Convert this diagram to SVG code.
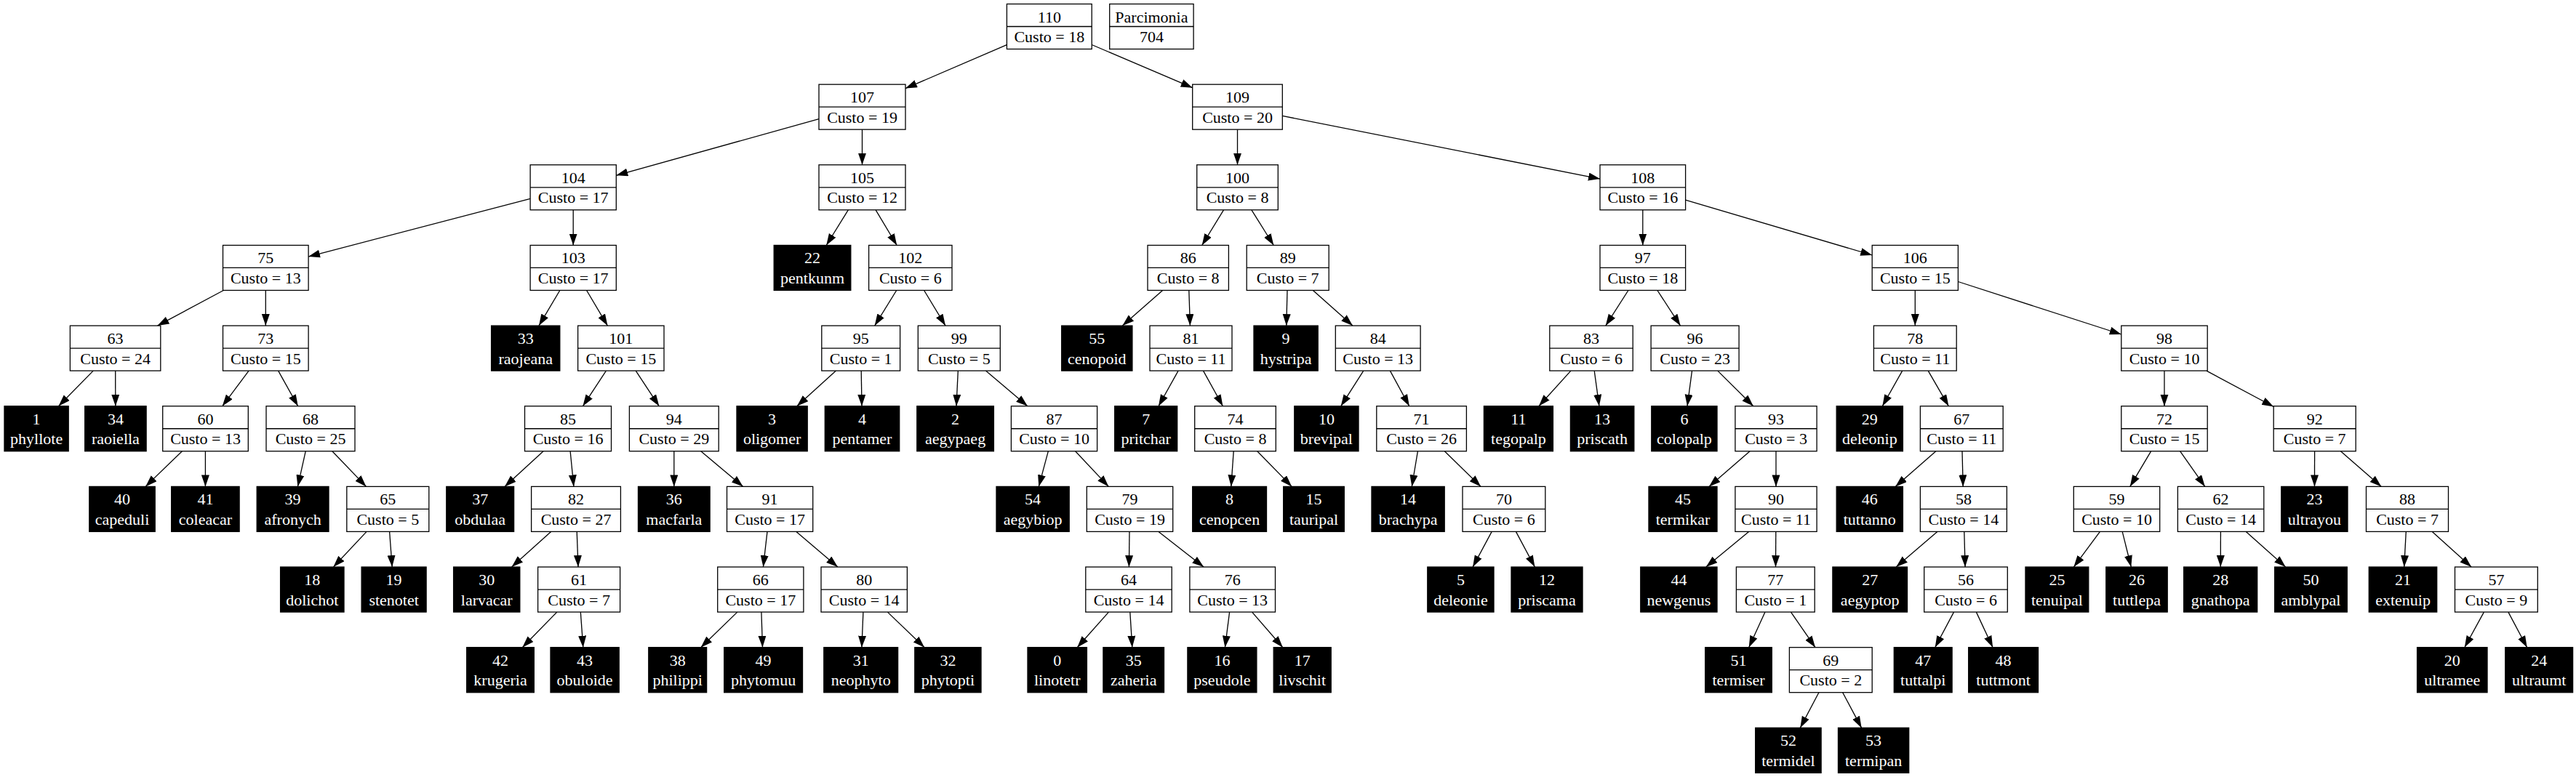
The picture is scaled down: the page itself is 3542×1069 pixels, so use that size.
<svg xmlns="http://www.w3.org/2000/svg" width="3542" height="1069" viewBox="0 0 3542 1069">
<style>
.n rect{fill:#fff;stroke:#000;stroke-width:1.3}
.n line{stroke:#000;stroke-width:1.3}
.l rect{fill:#000;stroke:#000;stroke-width:1.3}
text{font-family:"Liberation Serif","Times New Roman",serif;font-size:22px;text-anchor:middle;fill:#000}
.l text{fill:#fff}
#edges line{stroke:#000;stroke-width:1.3;marker-end:url(#a)}
</style>
<defs>
<marker id="a" markerUnits="userSpaceOnUse" markerWidth="17" markerHeight="12" refX="16" refY="5.5" orient="auto"><path d="M0,0 L16,5.5 L0,11 Z" fill="#000"/></marker>
</defs>
<rect width="3542" height="1069" fill="#fff"/>
<g id="edges">
<line x1="1384.4" y1="61.6" x2="1245" y2="121.6"/>
<line x1="1501.1" y1="61.5" x2="1639.7" y2="120.7"/>
<line x1="1126" y1="163.7" x2="847.3" y2="241.3"/>
<line x1="1185.5" y1="178.2" x2="1185.5" y2="226.8"/>
<line x1="729.1" y1="273.3" x2="424" y2="353.1"/>
<line x1="788.2" y1="288.8" x2="788.2" y2="337.5"/>
<line x1="1166.3" y1="288.8" x2="1136.2" y2="337.5"/>
<line x1="1204.1" y1="288.8" x2="1233.2" y2="337.5"/>
<line x1="307.3" y1="399.5" x2="216.5" y2="448.1"/>
<line x1="365.3" y1="399.5" x2="365.3" y2="448.1"/>
<line x1="128.2" y1="510.1" x2="80.5" y2="558.8"/>
<line x1="158.7" y1="510.1" x2="158.8" y2="558.8"/>
<line x1="342.1" y1="510.1" x2="305.7" y2="558.8"/>
<line x1="382.6" y1="510.1" x2="409.7" y2="558.8"/>
<line x1="250.4" y1="620.8" x2="200.1" y2="669.4"/>
<line x1="282.4" y1="620.8" x2="282.4" y2="669.4"/>
<line x1="420.2" y1="620.8" x2="409.4" y2="669.4"/>
<line x1="456.8" y1="620.8" x2="503.5" y2="669.4"/>
<line x1="504.1" y1="731.4" x2="458.4" y2="780.1"/>
<line x1="535.6" y1="731.4" x2="539.2" y2="780.1"/>
<line x1="769.8" y1="399.5" x2="741" y2="448.1"/>
<line x1="806.6" y1="399.5" x2="835.4" y2="448.1"/>
<line x1="833.4" y1="510.1" x2="801.4" y2="558.8"/>
<line x1="874.2" y1="510.1" x2="906.3" y2="558.8"/>
<line x1="747.1" y1="620.8" x2="694" y2="669.4"/>
<line x1="784.1" y1="620.8" x2="788.9" y2="669.4"/>
<line x1="757.6" y1="731.4" x2="703.6" y2="780.1"/>
<line x1="793.2" y1="731.4" x2="795" y2="780.1"/>
<line x1="765.8" y1="842.1" x2="718.3" y2="890.7"/>
<line x1="798.3" y1="842.1" x2="801.8" y2="890.7"/>
<line x1="926.8" y1="620.8" x2="926.8" y2="669.4"/>
<line x1="963.7" y1="620.8" x2="1021.7" y2="669.4"/>
<line x1="1055" y1="731.4" x2="1049.4" y2="780.1"/>
<line x1="1094.9" y1="731.4" x2="1151.9" y2="780.1"/>
<line x1="1013.8" y1="842.1" x2="963.7" y2="890.7"/>
<line x1="1046.9" y1="842.1" x2="1048.5" y2="890.7"/>
<line x1="1186.9" y1="842.1" x2="1184.9" y2="890.7"/>
<line x1="1220.4" y1="842.1" x2="1271.1" y2="890.7"/>
<line x1="1232.7" y1="399.5" x2="1202.7" y2="448.1"/>
<line x1="1270.6" y1="399.5" x2="1300" y2="448.1"/>
<line x1="1149.5" y1="510.1" x2="1095.8" y2="558.8"/>
<line x1="1184.2" y1="510.1" x2="1185" y2="558.8"/>
<line x1="1317.3" y1="510.1" x2="1315" y2="558.8"/>
<line x1="1355.4" y1="510.1" x2="1412.9" y2="558.8"/>
<line x1="1441.3" y1="620.8" x2="1428.3" y2="669.4"/>
<line x1="1478.6" y1="620.8" x2="1524.3" y2="669.4"/>
<line x1="1553" y1="731.4" x2="1552.4" y2="780.1"/>
<line x1="1593" y1="731.4" x2="1655.1" y2="780.1"/>
<line x1="1524.4" y1="842.1" x2="1481.2" y2="890.7"/>
<line x1="1553.8" y1="842.1" x2="1556.8" y2="890.7"/>
<line x1="1690.6" y1="842.1" x2="1684.4" y2="890.7"/>
<line x1="1721.6" y1="842.1" x2="1763.8" y2="890.7"/>
<line x1="1701.5" y1="178.2" x2="1701.5" y2="226.8"/>
<line x1="1763.2" y1="159.4" x2="2200" y2="246.1"/>
<line x1="1682.5" y1="288.8" x2="1652.7" y2="337.5"/>
<line x1="1720.9" y1="288.8" x2="1751.3" y2="337.5"/>
<line x1="1598.6" y1="399.5" x2="1543.4" y2="448.1"/>
<line x1="1634.8" y1="399.5" x2="1636.4" y2="448.1"/>
<line x1="1620.1" y1="510.1" x2="1593" y2="558.8"/>
<line x1="1654.5" y1="510.1" x2="1681.4" y2="558.8"/>
<line x1="1696.2" y1="620.8" x2="1692.8" y2="669.4"/>
<line x1="1728.7" y1="620.8" x2="1776.2" y2="669.4"/>
<line x1="1770" y1="399.5" x2="1768.8" y2="448.1"/>
<line x1="1805.4" y1="399.5" x2="1859.9" y2="448.1"/>
<line x1="1874.8" y1="510.1" x2="1843.7" y2="558.8"/>
<line x1="1911.4" y1="510.1" x2="1937.8" y2="558.8"/>
<line x1="1949.4" y1="620.8" x2="1941.3" y2="669.4"/>
<line x1="1986.3" y1="620.8" x2="2036.1" y2="669.4"/>
<line x1="2051.2" y1="731.4" x2="2025.1" y2="780.1"/>
<line x1="2084.4" y1="731.4" x2="2110.4" y2="780.1"/>
<line x1="2258.8" y1="288.8" x2="2258.8" y2="337.5"/>
<line x1="2317.5" y1="275.2" x2="2574.2" y2="351"/>
<line x1="2238.9" y1="399.5" x2="2207.8" y2="448.1"/>
<line x1="2278.9" y1="399.5" x2="2310.5" y2="448.1"/>
<line x1="2159.9" y1="510.1" x2="2115.9" y2="558.8"/>
<line x1="2192.2" y1="510.1" x2="2198.9" y2="558.8"/>
<line x1="2326.5" y1="510.1" x2="2320" y2="558.8"/>
<line x1="2361.8" y1="510.1" x2="2410.8" y2="558.8"/>
<line x1="2406.1" y1="620.8" x2="2349.9" y2="669.4"/>
<line x1="2442" y1="620.8" x2="2442" y2="669.4"/>
<line x1="2404.6" y1="731.4" x2="2345.8" y2="780.1"/>
<line x1="2441.8" y1="731.4" x2="2441.5" y2="780.1"/>
<line x1="2427" y1="842.1" x2="2404.7" y2="890.7"/>
<line x1="2462.5" y1="842.1" x2="2496" y2="890.7"/>
<line x1="2500.9" y1="952.7" x2="2475.3" y2="1001.4"/>
<line x1="2533.7" y1="952.7" x2="2559.6" y2="1001.4"/>
<line x1="2633.3" y1="399.5" x2="2633.3" y2="448.1"/>
<line x1="2692.4" y1="387.5" x2="2916.8" y2="460"/>
<line x1="2615.7" y1="510.1" x2="2588.3" y2="558.8"/>
<line x1="2651.2" y1="510.1" x2="2679.4" y2="558.8"/>
<line x1="2661.9" y1="620.8" x2="2606.2" y2="669.4"/>
<line x1="2698" y1="620.8" x2="2699.2" y2="669.4"/>
<line x1="2663.8" y1="731.4" x2="2607.2" y2="780.1"/>
<line x1="2700.8" y1="731.4" x2="2702.1" y2="780.1"/>
<line x1="2686.5" y1="842.1" x2="2660.7" y2="890.7"/>
<line x1="2717.4" y1="842.1" x2="2740.1" y2="890.7"/>
<line x1="2976" y1="510.1" x2="2976" y2="558.8"/>
<line x1="3033.9" y1="510.1" x2="3126.2" y2="559.5"/>
<line x1="2957.6" y1="620.8" x2="2928.8" y2="669.4"/>
<line x1="2997.7" y1="620.8" x2="3031.8" y2="669.4"/>
<line x1="2887.5" y1="731.4" x2="2851.4" y2="780.1"/>
<line x1="2918.2" y1="731.4" x2="2930.3" y2="780.1"/>
<line x1="3053.4" y1="731.4" x2="3053.3" y2="780.1"/>
<line x1="3088.3" y1="731.4" x2="3142.7" y2="780.1"/>
<line x1="3182.6" y1="620.8" x2="3182.5" y2="669.4"/>
<line x1="3218.4" y1="620.8" x2="3274.3" y2="669.4"/>
<line x1="3308.3" y1="731.4" x2="3305.7" y2="780.1"/>
<line x1="3344.3" y1="731.4" x2="3398.1" y2="780.1"/>
<line x1="3415.4" y1="842.1" x2="3388.8" y2="890.7"/>
<line x1="3448.9" y1="842.1" x2="3474.7" y2="890.7"/>
</g>
<g id="n110" class="n" transform="translate(1442.8,5.5)"><rect x="-58.4" y="0" width="116.8" height="62"/><line x1="-58.4" y1="31" x2="58.4" y2="31"/><text y="25">110</text><text y="52.5">Custo = 18</text></g>
<g id="parcimonia" class="n" transform="translate(1583.4,5.5)"><rect x="-57.7" y="0" width="115.4" height="62"/><line x1="-57.7" y1="31" x2="57.7" y2="31"/><text y="25">Parcimonia</text><text y="52.5">704</text></g>
<g id="n107" class="n" transform="translate(1185.5,116.15)"><rect x="-59.5" y="0" width="119" height="62"/><line x1="-59.5" y1="31" x2="59.5" y2="31"/><text y="25">107</text><text y="52.5">Custo = 19</text></g>
<g id="n109" class="n" transform="translate(1701.5,116.15)"><rect x="-61.8" y="0" width="123.6" height="62"/><line x1="-61.8" y1="31" x2="61.8" y2="31"/><text y="25">109</text><text y="52.5">Custo = 20</text></g>
<g id="n104" class="n" transform="translate(788.2,226.8)"><rect x="-59.1" y="0" width="118.2" height="62"/><line x1="-59.1" y1="31" x2="59.1" y2="31"/><text y="25">104</text><text y="52.5">Custo = 17</text></g>
<g id="n105" class="n" transform="translate(1185.5,226.8)"><rect x="-59.5" y="0" width="119" height="62"/><line x1="-59.5" y1="31" x2="59.5" y2="31"/><text y="25">105</text><text y="52.5">Custo = 12</text></g>
<g id="n100" class="n" transform="translate(1701.5,226.8)"><rect x="-55.8" y="0" width="111.6" height="62"/><line x1="-55.8" y1="31" x2="55.8" y2="31"/><text y="25">100</text><text y="52.5">Custo = 8</text></g>
<g id="n108" class="n" transform="translate(2258.8,226.8)"><rect x="-58.8" y="0" width="117.6" height="62"/><line x1="-58.8" y1="31" x2="58.8" y2="31"/><text y="25">108</text><text y="52.5">Custo = 16</text></g>
<g id="n75" class="n" transform="translate(365.3,337.45)"><rect x="-58.8" y="0" width="117.6" height="62"/><line x1="-58.8" y1="31" x2="58.8" y2="31"/><text y="25">75</text><text y="52.5">Custo = 13</text></g>
<g id="n103" class="n" transform="translate(788.2,337.45)"><rect x="-59.1" y="0" width="118.2" height="62"/><line x1="-59.1" y1="31" x2="59.1" y2="31"/><text y="25">103</text><text y="52.5">Custo = 17</text></g>
<g id="n22" class="l" transform="translate(1117,337.45)"><rect x="-52.8" y="0" width="105.6" height="62"/><text y="25">22</text><text y="52.5">pentkunm</text></g>
<g id="n102" class="n" transform="translate(1251.8,337.45)"><rect x="-57.2" y="0" width="114.4" height="62"/><line x1="-57.2" y1="31" x2="57.2" y2="31"/><text y="25">102</text><text y="52.5">Custo = 6</text></g>
<g id="n86" class="n" transform="translate(1633.7,337.45)"><rect x="-55.7" y="0" width="111.4" height="62"/><line x1="-55.7" y1="31" x2="55.7" y2="31"/><text y="25">86</text><text y="52.5">Custo = 8</text></g>
<g id="n89" class="n" transform="translate(1770.7,337.45)"><rect x="-56.5" y="0" width="113" height="62"/><line x1="-56.5" y1="31" x2="56.5" y2="31"/><text y="25">89</text><text y="52.5">Custo = 7</text></g>
<g id="n97" class="n" transform="translate(2258.8,337.45)"><rect x="-58.8" y="0" width="117.6" height="62"/><line x1="-58.8" y1="31" x2="58.8" y2="31"/><text y="25">97</text><text y="52.5">Custo = 18</text></g>
<g id="n106" class="n" transform="translate(2633.3,337.45)"><rect x="-59.1" y="0" width="118.2" height="62"/><line x1="-59.1" y1="31" x2="59.1" y2="31"/><text y="25">106</text><text y="52.5">Custo = 15</text></g>
<g id="n63" class="n" transform="translate(158.6,448.1)"><rect x="-62.2" y="0" width="124.4" height="62"/><line x1="-62.2" y1="31" x2="62.2" y2="31"/><text y="25">63</text><text y="52.5">Custo = 24</text></g>
<g id="n73" class="n" transform="translate(365.3,448.1)"><rect x="-58.8" y="0" width="117.6" height="62"/><line x1="-58.8" y1="31" x2="58.8" y2="31"/><text y="25">73</text><text y="52.5">Custo = 15</text></g>
<g id="n33" class="l" transform="translate(722.7,448.1)"><rect x="-47.1" y="0" width="94.2" height="62"/><text y="25">33</text><text y="52.5">raojeana</text></g>
<g id="n101" class="n" transform="translate(853.8,448.1)"><rect x="-59.2" y="0" width="118.4" height="62"/><line x1="-59.2" y1="31" x2="59.2" y2="31"/><text y="25">101</text><text y="52.5">Custo = 15</text></g>
<g id="n95" class="n" transform="translate(1183.7,448.1)"><rect x="-53.9" y="0" width="107.8" height="62"/><line x1="-53.9" y1="31" x2="53.9" y2="31"/><text y="25">95</text><text y="52.5">Custo = 1</text></g>
<g id="n99" class="n" transform="translate(1318.8,448.1)"><rect x="-56.5" y="0" width="113" height="62"/><line x1="-56.5" y1="31" x2="56.5" y2="31"/><text y="25">99</text><text y="52.5">Custo = 5</text></g>
<g id="n55" class="l" transform="translate(1508.3,448.1)"><rect x="-48.6" y="0" width="97.2" height="62"/><text y="25">55</text><text y="52.5">cenopoid</text></g>
<g id="n81" class="n" transform="translate(1637.5,448.1)"><rect x="-56.5" y="0" width="113" height="62"/><line x1="-56.5" y1="31" x2="56.5" y2="31"/><text y="25">81</text><text y="52.5">Custo = 11</text></g>
<g id="n9" class="l" transform="translate(1768.1,448.1)"><rect x="-44.1" y="0" width="88.2" height="62"/><text y="25">9</text><text y="52.5">hystripa</text></g>
<g id="n84" class="n" transform="translate(1894.7,448.1)"><rect x="-58.4" y="0" width="116.8" height="62"/><line x1="-58.4" y1="31" x2="58.4" y2="31"/><text y="25">84</text><text y="52.5">Custo = 13</text></g>
<g id="n83" class="n" transform="translate(2188,448.1)"><rect x="-57.2" y="0" width="114.4" height="62"/><line x1="-57.2" y1="31" x2="57.2" y2="31"/><text y="25">83</text><text y="52.5">Custo = 6</text></g>
<g id="n96" class="n" transform="translate(2330.6,448.1)"><rect x="-60.5" y="0" width="121" height="62"/><line x1="-60.5" y1="31" x2="60.5" y2="31"/><text y="25">96</text><text y="52.5">Custo = 23</text></g>
<g id="n78" class="n" transform="translate(2633.3,448.1)"><rect x="-56.9" y="0" width="113.8" height="62"/><line x1="-56.9" y1="31" x2="56.9" y2="31"/><text y="25">78</text><text y="52.5">Custo = 11</text></g>
<g id="n98" class="n" transform="translate(2976,448.1)"><rect x="-59.2" y="0" width="118.4" height="62"/><line x1="-59.2" y1="31" x2="59.2" y2="31"/><text y="25">98</text><text y="52.5">Custo = 10</text></g>
<g id="n1" class="l" transform="translate(50.1,558.75)"><rect x="-44.1" y="0" width="88.2" height="62"/><text y="25">1</text><text y="52.5">phyllote</text></g>
<g id="n34" class="l" transform="translate(158.9,558.75)"><rect x="-42.2" y="0" width="84.4" height="62"/><text y="25">34</text><text y="52.5">raoiella</text></g>
<g id="n60" class="n" transform="translate(282.5,558.75)"><rect x="-58.8" y="0" width="117.6" height="62"/><line x1="-58.8" y1="31" x2="58.8" y2="31"/><text y="25">60</text><text y="52.5">Custo = 13</text></g>
<g id="n68" class="n" transform="translate(427,558.75)"><rect x="-61" y="0" width="122" height="62"/><line x1="-61" y1="31" x2="61" y2="31"/><text y="25">68</text><text y="52.5">Custo = 25</text></g>
<g id="n85" class="n" transform="translate(781,558.75)"><rect x="-59.5" y="0" width="119" height="62"/><line x1="-59.5" y1="31" x2="59.5" y2="31"/><text y="25">85</text><text y="52.5">Custo = 16</text></g>
<g id="n94" class="n" transform="translate(926.8,558.75)"><rect x="-61.4" y="0" width="122.8" height="62"/><line x1="-61.4" y1="31" x2="61.4" y2="31"/><text y="25">94</text><text y="52.5">Custo = 29</text></g>
<g id="n3" class="l" transform="translate(1061.6,558.75)"><rect x="-48.6" y="0" width="97.2" height="62"/><text y="25">3</text><text y="52.5">oligomer</text></g>
<g id="n4" class="l" transform="translate(1185.5,558.75)"><rect x="-51.2" y="0" width="102.4" height="62"/><text y="25">4</text><text y="52.5">pentamer</text></g>
<g id="n2" class="l" transform="translate(1313.6,558.75)"><rect x="-52.8" y="0" width="105.6" height="62"/><text y="25">2</text><text y="52.5">aegypaeg</text></g>
<g id="n87" class="n" transform="translate(1449.5,558.75)"><rect x="-59.1" y="0" width="118.2" height="62"/><line x1="-59.1" y1="31" x2="59.1" y2="31"/><text y="25">87</text><text y="52.5">Custo = 10</text></g>
<g id="n7" class="l" transform="translate(1575.7,558.75)"><rect x="-43" y="0" width="86" height="62"/><text y="25">7</text><text y="52.5">pritchar</text></g>
<g id="n74" class="n" transform="translate(1698.5,558.75)"><rect x="-55.8" y="0" width="111.6" height="62"/><line x1="-55.8" y1="31" x2="55.8" y2="31"/><text y="25">74</text><text y="52.5">Custo = 8</text></g>
<g id="n10" class="l" transform="translate(1823.9,558.75)"><rect x="-44.1" y="0" width="88.2" height="62"/><text y="25">10</text><text y="52.5">brevipal</text></g>
<g id="n71" class="n" transform="translate(1954.6,558.75)"><rect x="-61.8" y="0" width="123.6" height="62"/><line x1="-61.8" y1="31" x2="61.8" y2="31"/><text y="25">71</text><text y="52.5">Custo = 26</text></g>
<g id="n11" class="l" transform="translate(2087.9,558.75)"><rect x="-47.5" y="0" width="95" height="62"/><text y="25">11</text><text y="52.5">tegopalp</text></g>
<g id="n13" class="l" transform="translate(2203.1,558.75)"><rect x="-43.7" y="0" width="87.4" height="62"/><text y="25">13</text><text y="52.5">priscath</text></g>
<g id="n6" class="l" transform="translate(2315.9,558.75)"><rect x="-45.1" y="0" width="90.2" height="62"/><text y="25">6</text><text y="52.5">colopalp</text></g>
<g id="n93" class="n" transform="translate(2442,558.75)"><rect x="-56.1" y="0" width="112.2" height="62"/><line x1="-56.1" y1="31" x2="56.1" y2="31"/><text y="25">93</text><text y="52.5">Custo = 3</text></g>
<g id="n29" class="l" transform="translate(2570.8,558.75)"><rect x="-45.6" y="0" width="91.2" height="62"/><text y="25">29</text><text y="52.5">deleonip</text></g>
<g id="n67" class="n" transform="translate(2697.3,558.75)"><rect x="-56.9" y="0" width="113.8" height="62"/><line x1="-56.9" y1="31" x2="56.9" y2="31"/><text y="25">67</text><text y="52.5">Custo = 11</text></g>
<g id="n72" class="n" transform="translate(2976,558.75)"><rect x="-59.2" y="0" width="118.4" height="62"/><line x1="-59.2" y1="31" x2="59.2" y2="31"/><text y="25">72</text><text y="52.5">Custo = 15</text></g>
<g id="n92" class="n" transform="translate(3182.7,558.75)"><rect x="-56.5" y="0" width="113" height="62"/><line x1="-56.5" y1="31" x2="56.5" y2="31"/><text y="25">92</text><text y="52.5">Custo = 7</text></g>
<g id="n40" class="l" transform="translate(168,669.4)"><rect x="-45.2" y="0" width="90.4" height="62"/><text y="25">40</text><text y="52.5">capeduli</text></g>
<g id="n41" class="l" transform="translate(282.4,669.4)"><rect x="-46.7" y="0" width="93.4" height="62"/><text y="25">41</text><text y="52.5">coleacar</text></g>
<g id="n39" class="l" transform="translate(402.6,669.4)"><rect x="-49.4" y="0" width="98.8" height="62"/><text y="25">39</text><text y="52.5">afronych</text></g>
<g id="n65" class="n" transform="translate(533.3,669.4)"><rect x="-56.5" y="0" width="113" height="62"/><line x1="-56.5" y1="31" x2="56.5" y2="31"/><text y="25">65</text><text y="52.5">Custo = 5</text></g>
<g id="n37" class="l" transform="translate(660.2,669.4)"><rect x="-46.4" y="0" width="92.8" height="62"/><text y="25">37</text><text y="52.5">obdulaa</text></g>
<g id="n82" class="n" transform="translate(792,669.4)"><rect x="-61.4" y="0" width="122.8" height="62"/><line x1="-61.4" y1="31" x2="61.4" y2="31"/><text y="25">82</text><text y="52.5">Custo = 27</text></g>
<g id="n36" class="l" transform="translate(926.8,669.4)"><rect x="-49.3" y="0" width="98.6" height="62"/><text y="25">36</text><text y="52.5">macfarla</text></g>
<g id="n91" class="n" transform="translate(1058.6,669.4)"><rect x="-59.1" y="0" width="118.2" height="62"/><line x1="-59.1" y1="31" x2="59.1" y2="31"/><text y="25">91</text><text y="52.5">Custo = 17</text></g>
<g id="n54" class="l" transform="translate(1420.1,669.4)"><rect x="-50.1" y="0" width="100.2" height="62"/><text y="25">54</text><text y="52.5">aegybiop</text></g>
<g id="n79" class="n" transform="translate(1553.5,669.4)"><rect x="-59.2" y="0" width="118.4" height="62"/><line x1="-59.2" y1="31" x2="59.2" y2="31"/><text y="25">79</text><text y="52.5">Custo = 19</text></g>
<g id="n8" class="l" transform="translate(1690.6,669.4)"><rect x="-50.9" y="0" width="101.8" height="62"/><text y="25">8</text><text y="52.5">cenopcen</text></g>
<g id="n15" class="l" transform="translate(1806.5,669.4)"><rect x="-41.8" y="0" width="83.6" height="62"/><text y="25">15</text><text y="52.5">tauripal</text></g>
<g id="n14" class="l" transform="translate(1936.1,669.4)"><rect x="-50.1" y="0" width="100.2" height="62"/><text y="25">14</text><text y="52.5">brachypa</text></g>
<g id="n70" class="n" transform="translate(2067.9,669.4)"><rect x="-56.9" y="0" width="113.8" height="62"/><line x1="-56.9" y1="31" x2="56.9" y2="31"/><text y="25">70</text><text y="52.5">Custo = 6</text></g>
<g id="n45" class="l" transform="translate(2314,669.4)"><rect x="-47" y="0" width="94" height="62"/><text y="25">45</text><text y="52.5">termikar</text></g>
<g id="n90" class="n" transform="translate(2442,669.4)"><rect x="-56.1" y="0" width="112.2" height="62"/><line x1="-56.1" y1="31" x2="56.1" y2="31"/><text y="25">90</text><text y="52.5">Custo = 11</text></g>
<g id="n46" class="l" transform="translate(2570.8,669.4)"><rect x="-45.6" y="0" width="91.2" height="62"/><text y="25">46</text><text y="52.5">tuttanno</text></g>
<g id="n58" class="n" transform="translate(2699.9,669.4)"><rect x="-59.5" y="0" width="119" height="62"/><line x1="-59.5" y1="31" x2="59.5" y2="31"/><text y="25">58</text><text y="52.5">Custo = 14</text></g>
<g id="n59" class="n" transform="translate(2910.5,669.4)"><rect x="-59.2" y="0" width="118.4" height="62"/><line x1="-59.2" y1="31" x2="59.2" y2="31"/><text y="25">59</text><text y="52.5">Custo = 10</text></g>
<g id="n62" class="n" transform="translate(3053.6,669.4)"><rect x="-59.2" y="0" width="118.4" height="62"/><line x1="-59.2" y1="31" x2="59.2" y2="31"/><text y="25">62</text><text y="52.5">Custo = 14</text></g>
<g id="n23" class="l" transform="translate(3182.4,669.4)"><rect x="-45.6" y="0" width="91.2" height="62"/><text y="25">23</text><text y="52.5">ultrayou</text></g>
<g id="n88" class="n" transform="translate(3310,669.4)"><rect x="-56.5" y="0" width="113" height="62"/><line x1="-56.5" y1="31" x2="56.5" y2="31"/><text y="25">88</text><text y="52.5">Custo = 7</text></g>
<g id="n18" class="l" transform="translate(429.3,780.05)"><rect x="-43.7" y="0" width="87.4" height="62"/><text y="25">18</text><text y="52.5">dolichot</text></g>
<g id="n19" class="l" transform="translate(541.6,780.05)"><rect x="-44.5" y="0" width="89" height="62"/><text y="25">19</text><text y="52.5">stenotet</text></g>
<g id="n30" class="l" transform="translate(669.2,780.05)"><rect x="-45.6" y="0" width="91.2" height="62"/><text y="25">30</text><text y="52.5">larvacar</text></g>
<g id="n61" class="n" transform="translate(796.1,780.05)"><rect x="-56.5" y="0" width="113" height="62"/><line x1="-56.5" y1="31" x2="56.5" y2="31"/><text y="25">61</text><text y="52.5">Custo = 7</text></g>
<g id="n66" class="n" transform="translate(1045.8,780.05)"><rect x="-59.1" y="0" width="118.2" height="62"/><line x1="-59.1" y1="31" x2="59.1" y2="31"/><text y="25">66</text><text y="52.5">Custo = 17</text></g>
<g id="n80" class="n" transform="translate(1188.2,780.05)"><rect x="-59.2" y="0" width="118.4" height="62"/><line x1="-59.2" y1="31" x2="59.2" y2="31"/><text y="25">80</text><text y="52.5">Custo = 14</text></g>
<g id="n64" class="n" transform="translate(1552,780.05)"><rect x="-59.2" y="0" width="118.4" height="62"/><line x1="-59.2" y1="31" x2="59.2" y2="31"/><text y="25">64</text><text y="52.5">Custo = 14</text></g>
<g id="n76" class="n" transform="translate(1694.7,780.05)"><rect x="-58.8" y="0" width="117.6" height="62"/><line x1="-58.8" y1="31" x2="58.8" y2="31"/><text y="25">76</text><text y="52.5">Custo = 13</text></g>
<g id="n5" class="l" transform="translate(2008.4,780.05)"><rect x="-45.6" y="0" width="91.2" height="62"/><text y="25">5</text><text y="52.5">deleonie</text></g>
<g id="n12" class="l" transform="translate(2127,780.05)"><rect x="-49" y="0" width="98" height="62"/><text y="25">12</text><text y="52.5">priscama</text></g>
<g id="n44" class="l" transform="translate(2308.4,780.05)"><rect x="-52.6" y="0" width="105.2" height="62"/><text y="25">44</text><text y="52.5">newgenus</text></g>
<g id="n77" class="n" transform="translate(2441.3,780.05)"><rect x="-53.9" y="0" width="107.8" height="62"/><line x1="-53.9" y1="31" x2="53.9" y2="31"/><text y="25">77</text><text y="52.5">Custo = 1</text></g>
<g id="n27" class="l" transform="translate(2571.2,780.05)"><rect x="-51.3" y="0" width="102.6" height="62"/><text y="25">27</text><text y="52.5">aegyptop</text></g>
<g id="n56" class="n" transform="translate(2703,780.05)"><rect x="-57.3" y="0" width="114.6" height="62"/><line x1="-57.3" y1="31" x2="57.3" y2="31"/><text y="25">56</text><text y="52.5">Custo = 6</text></g>
<g id="n25" class="l" transform="translate(2828.4,780.05)"><rect x="-43.4" y="0" width="86.8" height="62"/><text y="25">25</text><text y="52.5">tenuipal</text></g>
<g id="n26" class="l" transform="translate(2938,780.05)"><rect x="-42.2" y="0" width="84.4" height="62"/><text y="25">26</text><text y="52.5">tuttlepa</text></g>
<g id="n28" class="l" transform="translate(3053.2,780.05)"><rect x="-50.5" y="0" width="101" height="62"/><text y="25">28</text><text y="52.5">gnathopa</text></g>
<g id="n50" class="l" transform="translate(3177.5,780.05)"><rect x="-49.8" y="0" width="99.6" height="62"/><text y="25">50</text><text y="52.5">amblypal</text></g>
<g id="n21" class="l" transform="translate(3304,780.05)"><rect x="-46.7" y="0" width="93.4" height="62"/><text y="25">21</text><text y="52.5">extenuip</text></g>
<g id="n57" class="n" transform="translate(3432.4,780.05)"><rect x="-56.9" y="0" width="113.8" height="62"/><line x1="-56.9" y1="31" x2="56.9" y2="31"/><text y="25">57</text><text y="52.5">Custo = 9</text></g>
<g id="n42" class="l" transform="translate(688,890.7)"><rect x="-46.3" y="0" width="92.6" height="62"/><text y="25">42</text><text y="52.5">krugeria</text></g>
<g id="n43" class="l" transform="translate(804.1,890.7)"><rect x="-47.1" y="0" width="94.2" height="62"/><text y="25">43</text><text y="52.5">obuloide</text></g>
<g id="n38" class="l" transform="translate(931.7,890.7)"><rect x="-39.9" y="0" width="79.8" height="62"/><text y="25">38</text><text y="52.5">philippi</text></g>
<g id="n49" class="l" transform="translate(1049.6,890.7)"><rect x="-53.9" y="0" width="107.8" height="62"/><text y="25">49</text><text y="52.5">phytomuu</text></g>
<g id="n31" class="l" transform="translate(1183.7,890.7)"><rect x="-50.9" y="0" width="101.8" height="62"/><text y="25">31</text><text y="52.5">neophyto</text></g>
<g id="n32" class="l" transform="translate(1303.4,890.7)"><rect x="-45.6" y="0" width="91.2" height="62"/><text y="25">32</text><text y="52.5">phytopti</text></g>
<g id="n0" class="l" transform="translate(1453.7,890.7)"><rect x="-40.7" y="0" width="81.4" height="62"/><text y="25">0</text><text y="52.5">linotetr</text></g>
<g id="n35" class="l" transform="translate(1558.7,890.7)"><rect x="-41.8" y="0" width="83.6" height="62"/><text y="25">35</text><text y="52.5">zaheria</text></g>
<g id="n16" class="l" transform="translate(1680.4,890.7)"><rect x="-47.5" y="0" width="95" height="62"/><text y="25">16</text><text y="52.5">pseudole</text></g>
<g id="n17" class="l" transform="translate(1790.7,890.7)"><rect x="-39.5" y="0" width="79" height="62"/><text y="25">17</text><text y="52.5">livschit</text></g>
<g id="n51" class="l" transform="translate(2390.5,890.7)"><rect x="-45.8" y="0" width="91.6" height="62"/><text y="25">51</text><text y="52.5">termiser</text></g>
<g id="n69" class="n" transform="translate(2517.3,890.7)"><rect x="-56.9" y="0" width="113.8" height="62"/><line x1="-56.9" y1="31" x2="56.9" y2="31"/><text y="25">69</text><text y="52.5">Custo = 2</text></g>
<g id="n47" class="l" transform="translate(2644.2,890.7)"><rect x="-39.9" y="0" width="79.8" height="62"/><text y="25">47</text><text y="52.5">tuttalpi</text></g>
<g id="n48" class="l" transform="translate(2754.6,890.7)"><rect x="-47.9" y="0" width="95.8" height="62"/><text y="25">48</text><text y="52.5">tuttmont</text></g>
<g id="n20" class="l" transform="translate(3371.8,890.7)"><rect x="-48.2" y="0" width="96.4" height="62"/><text y="25">20</text><text y="52.5">ultramee</text></g>
<g id="n24" class="l" transform="translate(3491.2,890.7)"><rect x="-46.4" y="0" width="92.8" height="62"/><text y="25">24</text><text y="52.5">ultraumt</text></g>
<g id="n52" class="l" transform="translate(2458.9,1001.35)"><rect x="-45.2" y="0" width="90.4" height="62"/><text y="25">52</text><text y="52.5">termidel</text></g>
<g id="n53" class="l" transform="translate(2576.1,1001.35)"><rect x="-48.6" y="0" width="97.2" height="62"/><text y="25">53</text><text y="52.5">termipan</text></g>
</svg>
